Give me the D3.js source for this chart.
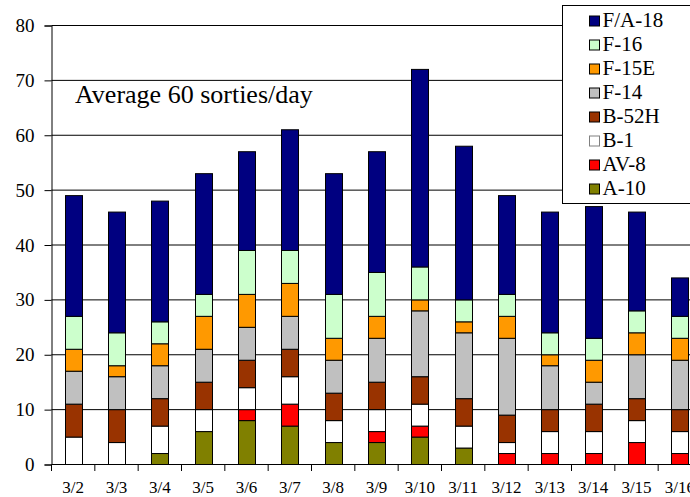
<!DOCTYPE html>
<html>
<head>
<meta charset="utf-8">
<script src="https://cdn.jsdelivr.net/npm/d3@7"></script>
<style>
  body { margin: 0; background: #fff; }
  svg text { font-family: "Liberation Serif", "DejaVu Serif", serif !important; }
</style>
</head>
<body>
<div id="chart"></div>
<script>
const days = ["3/2","3/3","3/4","3/5","3/6","3/7","3/8","3/9","3/10","3/11","3/12","3/13","3/14","3/15","3/16"];

// stacked bottom to top
const aircraft = ["A-10","AV-8","B-1","B-52H","F-14","F-15E","F-16","F/A-18"];
const colors   = ["#808000","#ff0000","#ffffff","#993300","#c0c0c0","#ff9900","#ccffcc","#000080"];

const a10  = [0,0,2,6,8,7,4,4,5,3,0,0,0,0,0];
const av8  = [0,0,0,0,2,4,0,2,2,0,2,2,2,4,2];
const b1   = [5,4,5,4,4,5,4,4,4,4,2,4,4,4,4];
const b52h = [6,6,5,5,5,5,5,5,5,5,5,4,5,4,4];
const f14  = [6,6,6,6,6,6,6,8,12,12,14,8,4,8,9];
const f15e = [4,2,4,6,6,6,4,4,2,2,4,2,4,4,4];
const f16  = [6,6,4,4,8,6,8,8,6,4,4,4,4,4,4];
const fa18 = [22,22,22,22,18,22,22,22,36,28,18,22,24,18,7];

const yTicks = [0,10,20,30,40,50,60,70,80];
const note = "Average 60 sorties/day";

const series = [a10, av8, b1, b52h, f14, f15e, f16, fa18];
const table = days.map((d, i) => {
  const row = { day: d };
  aircraft.forEach((a, k) => row[a] = series[k][i]);
  return row;
});

const W = 690, H = 497;
const svg = d3.select("#chart").append("svg")
  .attr("width", W).attr("height", H);

const x = d3.scaleBand()
  .domain(days)
  .range([51.5, 701.5])
  .paddingInner(0.6)
  .paddingOuter(0.3);

const y = d3.scaleLinear()
  .domain([0, 80])
  .range([464.5, 25.5]);

const color = d3.scaleOrdinal().domain(aircraft).range(colors);

// gridlines
svg.append("g")
  .selectAll("line")
  .data(yTicks.filter(t => t > 0))
  .join("line")
    .attr("x1", x.range()[0]).attr("x2", x.range()[1])
    .attr("y1", d => y(d)).attr("y2", d => y(d))
    .attr("stroke", "#000").attr("stroke-width", 1);

// bars
const stack = d3.stack().keys(aircraft)(table);
svg.append("g")
  .selectAll("g")
  .data(stack)
  .join("g")
    .attr("fill", d => color(d.key))
  .selectAll("rect")
  .data(d => d.filter(s => s[1] > s[0]))
  .join("rect")
    .attr("x", d => Math.round(x(d.data.day)) + 0.5)
    .attr("width", Math.round(x.bandwidth()))
    .attr("y", d => y(d[1]))
    .attr("height", d => y(d[0]) - y(d[1]))
    .attr("stroke", "#000")
    .attr("stroke-width", 1);

// y axis
const yAxis = svg.append("g")
  .attr("transform", `translate(${x.range()[0]},0)`)
  .call(d3.axisLeft(y).tickValues(yTicks).tickSize(7).tickPadding(10));
yAxis.select(".domain").attr("stroke", "#000");
yAxis.selectAll(".tick line").attr("stroke", "#000");
yAxis.selectAll("text")
  .attr("font-size", 19).attr("fill", "#000");

// x axis: ticks between categories
const xAxis = svg.append("g").attr("transform", `translate(0,${y(0)})`);
xAxis.append("line")
  .attr("x1", x.range()[0]).attr("x2", x.range()[1])
  .attr("stroke", "#000");
xAxis.selectAll(".xtick")
  .data(d3.range(days.length + 1))
  .join("line")
    .attr("class", "xtick")
    .attr("x1", i => x.range()[0] + i * x.step())
    .attr("x2", i => x.range()[0] + i * x.step())
    .attr("y1", 0).attr("y2", 6.5)
    .attr("stroke", "#000");
xAxis.selectAll(".xlab")
  .data(days)
  .join("text")
    .attr("class", "xlab")
    .attr("x", d => x(d) + x.bandwidth() / 2)
    .attr("y", 28.5)
    .attr("text-anchor", "middle")
    .attr("font-size", 17)
    .text(d => d);

// annotation
svg.append("text")
  .attr("x", 75).attr("y", 103)
  .attr("font-size", 26)
  .text(note);

// legend, top of stack first
const legend = svg.append("g").attr("transform", "translate(562.5,5.5)");
legend.append("rect")
  .attr("width", 140).attr("height", 198)
  .attr("fill", "#fff").attr("stroke", "#000");
const items = legend.selectAll(".item")
  .data(aircraft.slice().reverse())
  .join("g")
    .attr("class", "item")
    .attr("transform", (d, i) => `translate(27,${10.5 + i * 24})`);
items.append("rect")
  .attr("width", 10).attr("height", 10)
  .attr("fill", d => color(d))
  .attr("stroke", d => d === "B-1" ? "#808080" : "#000");
items.append("text")
  .attr("x", 13).attr("y", 11)
  .attr("font-size", 21)
  .text(d => d);
</script>
</body>
</html>
